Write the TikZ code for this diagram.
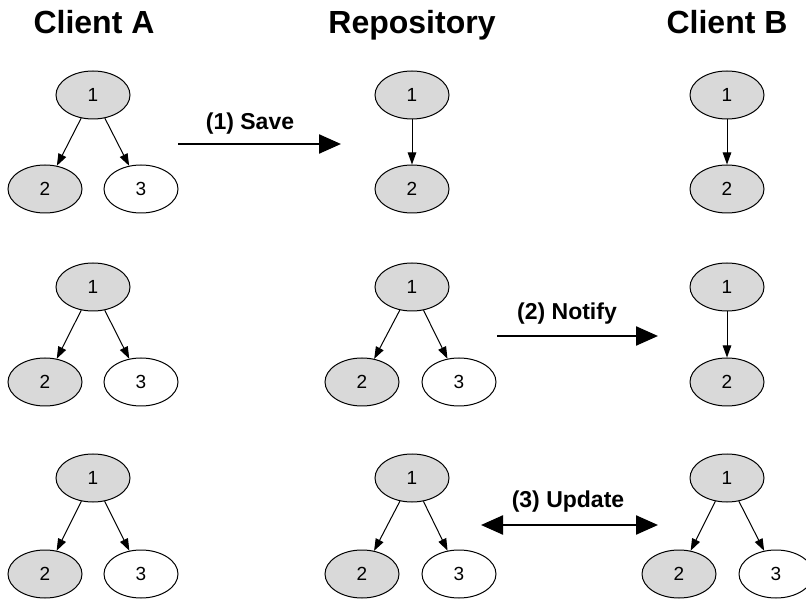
\documentclass[tikz,border=0pt]{standalone}
\usepackage{fontspec}
\setmainfont{Liberation Sans}
\usetikzlibrary{shapes.geometric,arrows.meta}
\begin{document}
\begin{tikzpicture}[x=1pt,y=-1pt,
 nd/.style={ellipse,draw,line width=1pt,minimum width=74pt,minimum height=48pt,inner sep=0pt,font=\fontsize{19}{19}\selectfont},
 g/.style={nd,fill=black!15},
 w/.style={nd,fill=white},
 ta/.style={-{Triangle[length=12pt,width=8.5pt]},line width=1pt},
 big/.style={line width=2.3pt,-{Triangle[length=22pt,width=19pt]}},
 bigboth/.style={line width=2.3pt,{Triangle[length=22pt,width=19pt]}-{Triangle[length=22pt,width=19pt]}},
 hd/.style={anchor=base,font=\bfseries\fontsize{32}{32}\selectfont},
 lb/.style={font=\bfseries\fontsize{23}{23}\selectfont}]
\useasboundingbox (0,0) rectangle (806,601);
% headers
\node[hd] (hA) at (94,34) {Client A};
\node[hd] (hR) at (412,34) {Repository};
\node[hd] (hB) at (727,34) {Client B};
% Row 1
\node[g] (a11) at (93,95) {1};
\node[g] (a12) at (45,189) {2};
\node[w] (a13) at (141,189) {3};
\draw[ta] (a11) -- (a12);
\draw[ta] (a11) -- (a13);
\node[g] (r11) at (412,95) {1};
\node[g] (r12) at (412,189) {2};
\draw[ta] (r11) -- (r12);
\node[g] (b11) at (727,95) {1};
\node[g] (b12) at (727,189) {2};
\draw[ta] (b11) -- (b12);
% Row 2
\node[g] (a21) at (93,287) {1};
\node[g] (a22) at (45,382) {2};
\node[w] (a23) at (141,382) {3};
\draw[ta] (a21) -- (a22);
\draw[ta] (a21) -- (a23);
\node[g] (r21) at (412,287) {1};
\node[g] (r22) at (362,382) {2};
\node[w] (r23) at (459,382) {3};
\draw[ta] (r21) -- (r22);
\draw[ta] (r21) -- (r23);
\node[g] (b21) at (727,287) {1};
\node[g] (b22) at (727,382) {2};
\draw[ta] (b21) -- (b22);
% Row 3
\node[g] (a31) at (93,478) {1};
\node[g] (a32) at (45,574) {2};
\node[w] (a33) at (141,574) {3};
\draw[ta] (a31) -- (a32);
\draw[ta] (a31) -- (a33);
\node[g] (r31) at (412,478) {1};
\node[g] (r32) at (362,574) {2};
\node[w] (r33) at (459,574) {3};
\draw[ta] (r31) -- (r32);
\draw[ta] (r31) -- (r33);
\node[g] (b31) at (727,478) {1};
\node[g] (b32) at (679,574) {2};
\node[w] (b33) at (776,574) {3};
\draw[ta] (b31) -- (b32);
\draw[ta] (b31) -- (b33);
% big arrows
\coordinate (s1) at (178,144);
\coordinate (e1) at (341,144);
\draw[big] (s1) -- (e1);
\node[lb] (l1) at (250,124) {(1) Save};
\coordinate (s2) at (497,336);
\coordinate (e2) at (658,336);
\draw[big] (s2) -- (e2);
\node[lb] (l2) at (567,314) {(2) Notify};
\coordinate (s3) at (481,525);
\coordinate (e3) at (658,525);
\draw[bigboth] (s3) -- (e3);
\node[lb] (l3) at (568,502) {(3) Update};
\end{tikzpicture}
\end{document}
